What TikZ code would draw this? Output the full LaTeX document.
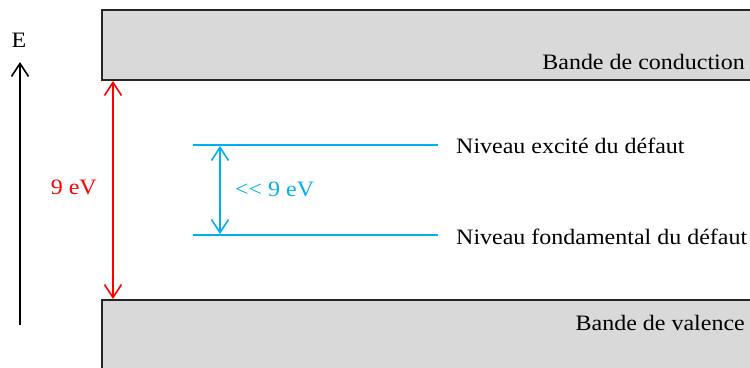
\documentclass[tikz,border=0pt]{standalone}
\usepackage{fontspec}
\setmainfont[FakeStretch=1.09]{Liberation Serif}
\usetikzlibrary{arrows.meta}
\definecolor{bandgray}{RGB}{217,217,217}
\definecolor{defblue}{RGB}{0,176,240}
\tikzset{
  band/.style={draw=black!85, line width=1.2pt, fill=bandgray},
  lbl/.style={inner sep=0pt, font=\fontsize{22}{26}\selectfont},
  tip/.tip={Straight Barb[length=13pt,width=17pt,line width=1.6pt]},
  barb/.style={-tip},
  dbarb/.style={tip-tip},
}
\begin{document}
\begin{tikzpicture}[x=1pt,y=-1pt]
\useasboundingbox (0,0) rectangle (750,367);
% bands
\path[band] (102,10) rectangle (760,80);
\path[band] (102,300) rectangle (760,380);
\node[lbl, anchor=east] (cb) at (745,62) {Bande de conduction};
\node[lbl, anchor=east] (vb) at (745,323) {Bande de valence};
% energy axis
\coordinate (e0) at (20,325);
\coordinate (e1) at (20,62);
\draw[barb, line width=1.8pt] (e0) -- (e1);
\node[lbl] (E) at (19,40) {E};
% gap arrow
\coordinate (g0) at (113,81);
\coordinate (g1) at (113,299);
\draw[dbarb, red, line width=1.8pt] (g0) -- (g1);
\node[lbl, red, anchor=east] (gap) at (97,187) {9 eV};
% defect levels
\coordinate (a0) at (193,145);
\coordinate (a1) at (438,145);
\coordinate (b0) at (193,235);
\coordinate (b1) at (438,235);
\draw[defblue, line width=1.6pt] (a0) -- (a1);
\draw[defblue, line width=1.6pt] (b0) -- (b1);
\coordinate (d0) at (220,146);
\coordinate (d1) at (220,234);
\draw[dbarb, defblue, line width=1.6pt] (d0) -- (d1);
\node[lbl, defblue, anchor=west] (small) at (235,189) {\mbox{<}\mbox{<} 9 eV};
\node[lbl, anchor=west] (exc) at (456,146) {Niveau excité du défaut};
\node[lbl, anchor=west] (fond) at (456,237) {Niveau fondamental du défaut};
\end{tikzpicture}
\end{document}
